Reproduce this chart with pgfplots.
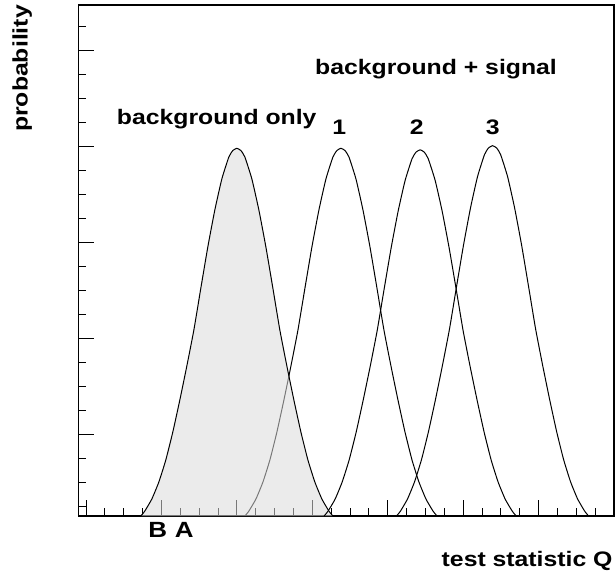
\documentclass[border=0pt]{standalone}
\usepackage{fontspec}
\setmainfont{Liberation Sans}
\usepackage{graphicx}
\usepackage{pgfplots}
\usepackage{pgfplotstable}
\pgfplotsset{compat=1.18}

% curves: x in axis units, y in axis units
\pgfplotstableread{
x y
0.727 0
0.780 0.052
0.873 0.177
0.966 0.354
1.058 0.583
1.151 0.874
1.244 1.207
1.337 1.561
1.430 1.935
1.523 2.373
1.615 2.799
1.708 3.184
1.801 3.507
1.894 3.736
1.947 3.803
2.000 3.826
2.053 3.803
2.106 3.736
2.199 3.507
2.292 3.184
2.385 2.799
2.477 2.373
2.570 1.935
2.663 1.561
2.756 1.207
2.849 0.874
2.942 0.583
3.034 0.354
3.127 0.177
3.220 0.052
3.273 0
}\bgonly

\pgfplotstableread{
x y
2.107 0
2.160 0.052
2.253 0.177
2.346 0.354
2.438 0.583
2.531 0.874
2.624 1.207
2.717 1.561
2.810 1.935
2.903 2.373
2.995 2.799
3.088 3.184
3.181 3.507
3.274 3.736
3.327 3.803
3.380 3.826
3.433 3.803
3.486 3.736
3.579 3.507
3.672 3.184
3.765 2.799
3.857 2.373
3.950 1.935
4.043 1.561
4.136 1.207
4.229 0.874
4.322 0.583
4.414 0.354
4.507 0.177
4.600 0.052
4.653 0
}\sigone

\pgfplotstableread{
x y
3.157 0
3.210 0.052
3.303 0.176
3.396 0.353
3.488 0.581
3.581 0.870
3.674 1.202
3.767 1.554
3.860 1.927
3.953 2.363
4.045 2.787
4.138 3.171
4.231 3.492
4.324 3.720
4.377 3.787
4.430 3.810
4.483 3.787
4.536 3.720
4.629 3.492
4.722 3.171
4.815 2.787
4.907 2.363
5.000 1.927
5.093 1.554
5.186 1.202
5.279 0.870
5.372 0.581
5.464 0.353
5.557 0.176
5.650 0.052
5.703 0
}\sigtwo

\pgfplotstableread{
x y
4.117 0
4.170 0.052
4.263 0.178
4.356 0.356
4.448 0.587
4.541 0.880
4.634 1.215
4.727 1.572
4.820 1.949
4.913 2.390
5.005 2.819
5.098 3.207
5.191 3.532
5.284 3.762
5.337 3.830
5.390 3.853
5.443 3.830
5.496 3.762
5.589 3.532
5.682 3.207
5.775 2.819
5.867 2.390
5.960 1.949
6.053 1.572
6.146 1.215
6.239 0.880
6.332 0.587
6.424 0.356
6.517 0.178
6.610 0.052
6.663 0
}\sigthree

\newcommand\lbl[2][21]{\scalebox{1.18}[1]{\fontsize{#1}{#1}\selectfont\bfseries #2}}

\begin{document}
\begin{tikzpicture}[x=1pt,y=1pt]
\begin{axis}[
  scale only axis,
  width=535.7pt, height=511pt,
  xmin=-0.102, xmax=7,
  ymin=0, ymax=5.317,
  tick pos=left,
  tick align=inside,
  major tick length=16pt,
  minor tick length=8pt,
  xtick={0,...,7},
  minor x tick num=3,
  ytick={0.846,1.846,2.846,3.846,4.846},
  minor ytick={0.096,0.346,0.596,1.096,1.346,1.596,2.096,2.346,2.596,3.096,3.346,3.596,4.096,4.346,4.596,5.096},
  xticklabels={}, yticklabels={},
  axis line style={line width=1.4pt},
  tick style={black, line width=0.9pt},
  every axis plot/.append style={smooth, tension=0.3},
]
  \addplot[black, line width=1pt] table {\sigone};
  \addplot[draw=none, fill=gray!28, fill opacity=0.55] table {\bgonly} \closedcycle;
  \addplot[black, line width=1pt] table {\bgonly};
  \addplot[black, line width=1pt] table {\sigtwo};
  \addplot[black, line width=1pt] table {\sigthree};
\end{axis}

\node[anchor=base west, inner sep=0pt] at (38.4,391.7) {\lbl{background only}};
\node[anchor=base west, inner sep=0pt] at (236.7,441) {\lbl{background + signal}};
\node[anchor=base, inner sep=0pt] at (261,381.5) {\lbl{1}};
\node[anchor=base, inner sep=0pt] at (338.4,381.5) {\lbl{2}};
\node[anchor=base, inner sep=0pt] at (414.4,381.5) {\lbl{3}};
\node[anchor=base, inner sep=0pt] at (79.4,-21.7) {\lbl[22]{B}};
\node[anchor=base, inner sep=0pt] at (106,-21.7) {\lbl[22]{A}};
\node[anchor=base east, inner sep=0pt] at (534.4,-50.5) {\lbl{test statistic Q}};
\node[anchor=base east, inner sep=0pt, rotate=90] at (-50.7,511) {\lbl{probability}};

\pgfresetboundingbox
\path (-78.3,-58) rectangle (537.7,516);
\end{tikzpicture}
\end{document}
